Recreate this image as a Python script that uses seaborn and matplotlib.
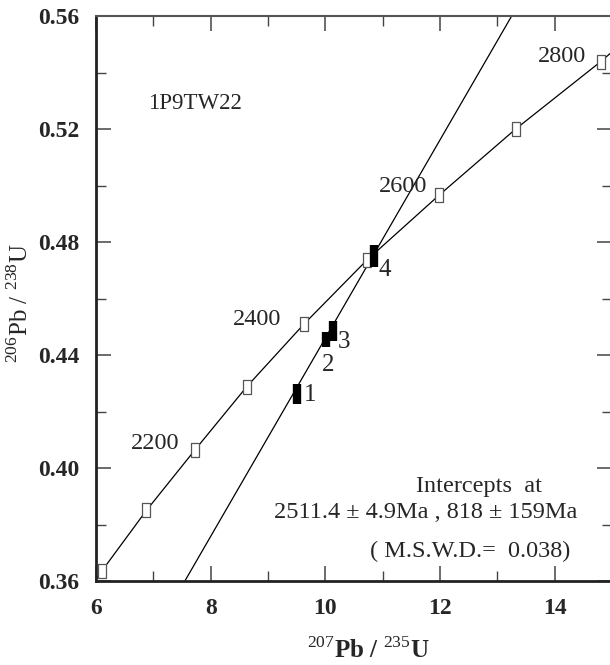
import numpy as np
import seaborn as sns
import matplotlib.pyplot as plt
from matplotlib.ticker import MultipleLocator

# concordia points (207Pb/235U, 206Pb/238U), ages in Ma
conc_age = [2000, 2100, 2200, 2300, 2400, 2500, 2600, 2700, 2800]
conc_x = [6.10, 6.88, 7.73, 8.63, 9.62, 10.72, 11.98, 13.32, 14.80]
conc_y = [0.3635, 0.3850, 0.4065, 0.4288, 0.4508, 0.4735, 0.4965, 0.5200, 0.5438]
# concordia curve continues past the last marker
curve_x = [5.90] + conc_x + [15.50]
curve_y = [0.3580] + conc_y + [0.5560]

# discordia line (ends read at plot frame)
disc_x = [7.55, 13.25]
disc_y = [0.36, 0.56]

# analysed spots
spot_id = ['1', '2', '3', '4']
spot_x = [9.51, 10.01, 10.14, 10.85]
spot_y = [0.4262, 0.4455, 0.4485, 0.4750]
spot_err = [0.0035, 0.0028, 0.0037, 0.0040]
spot_lab_x = [9.73, 10.05, 10.33, 11.03]
spot_lab_y = [0.4258, 0.4364, 0.4446, 0.4701]

labelled_ages = [2200, 2400, 2600, 2800]
age_lab_x = [7.03, 8.81, 11.36, 14.12]
age_lab_y = [0.4088, 0.4524, 0.4995, 0.5458]

sns.set_style('ticks')
plt.rcParams['font.family'] = ['Liberation Serif', 'DejaVu Serif']
plt.rcParams['mathtext.fontset'] = 'custom'
plt.rcParams['mathtext.rm'] = 'Liberation Serif'
plt.rcParams['mathtext.bf'] = 'Liberation Serif:bold'

fig = plt.figure(figsize=(6.10, 6.65), dpi=100)
ax = fig.add_axes([96 / 610, 84 / 665, 516 / 610, 565 / 665])

sns.lineplot(x=curve_x, y=curve_y, ax=ax, color='black', lw=0.9, sort=False)
sns.lineplot(x=disc_x, y=disc_y, ax=ax, color='black', lw=0.9)

marker = [(-0.55, -1), (0.55, -1), (0.55, 1), (-0.55, 1), (-0.55, -1)]
ax.scatter(conc_x, conc_y, marker=marker, s=110, facecolor='white',
           edgecolor='#555555', linewidths=0.9, zorder=3)

ax.errorbar(spot_x, spot_y, yerr=spot_err, fmt='none', ecolor='black',
            elinewidth=6, capsize=0, zorder=4)

for a, lx, ly in zip(labelled_ages, age_lab_x, age_lab_y):
    ax.text(lx, ly, str(a), fontsize=17.5, ha='center', va='center')

for sid, lx, ly in zip(spot_id, spot_lab_x, spot_lab_y):
    ax.text(lx, ly, sid, fontsize=18, ha='center', va='center')

ax.text(7.73, 0.5292, '1P9TW22', fontsize=16.5, ha='center', va='center')
ax.text(12.68, 0.3933, 'Intercepts  at', fontsize=17.5, ha='center', va='center')
ax.text(11.75, 0.3844, '2511.4 ± 4.9Ma , 818 ± 159Ma', fontsize=17.5, ha='center', va='center')
ax.text(12.52, 0.3706, '( M.S.W.D.=  0.038)', fontsize=17.5, ha='center', va='center')

ax.set_xlim(6, 15)
ax.set_ylim(0.36, 0.56)
ax.xaxis.set_minor_locator(MultipleLocator(1))
ax.yaxis.set_minor_locator(MultipleLocator(0.02))
ax.set_xticks([6, 8, 10, 12, 14])
ax.set_xticklabels(['6', '8', '10', '12', '14'], fontweight='bold')
ax.set_yticks([0.36, 0.40, 0.44, 0.48, 0.52, 0.56])
ax.set_yticklabels(['0.36', '0.40', '0.44', '0.48', '0.52', '0.56'], fontweight='bold')
ax.tick_params(which='both', direction='in', top=True, right=True, labelsize=17, pad=12)
ax.tick_params(which='major', length=11, width=1.1, color='#444444')
ax.tick_params(which='minor', length=7, width=1.0, color='#444444')

for s in ['left', 'bottom']:
    ax.spines[s].set_linewidth(2.0)
    ax.spines[s].set_color('#222222')
ax.spines['top'].set_linewidth(1.5)
ax.spines['top'].set_color('#555555')
ax.spines['right'].set_linewidth(1.5)

ax.set_xlabel(r'$^{207}$Pb / $^{235}$U', fontsize=18, fontweight='bold', va='center')
ax.set_ylabel(r'$^{206}$Pb / $^{238}$U', fontsize=18, va='center', ha='center')
ax.xaxis.set_label_coords((368 - 96) / 516, -(650 - 581) / 565)
ax.yaxis.set_label_coords((20 - 96) / 516, (581 - 303) / 565)

fig.savefig('out.png', dpi=100)
